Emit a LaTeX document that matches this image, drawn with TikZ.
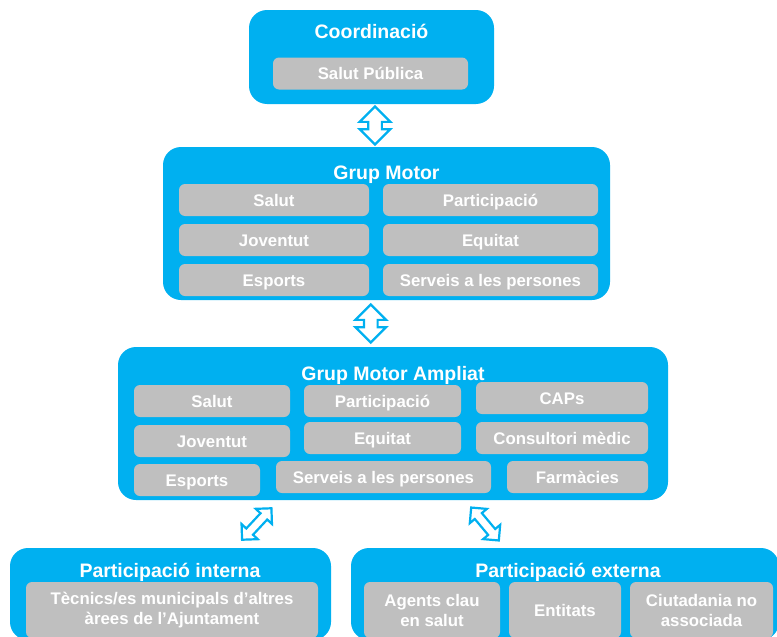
\documentclass[tikz,border=0pt]{standalone}
\usepackage{fontspec}
\setmainfont{Liberation Sans}
\usetikzlibrary{shapes.arrows,calc}
\definecolor{skyblue}{RGB}{0,176,240}
\definecolor{cellgray}{RGB}{191,191,191}

\begin{document}
\begin{tikzpicture}[x=1pt, y=-1pt,
  group/.style={fill=skyblue, rounded corners=18pt, inner sep=0pt},
  grouphead/.style={text=white, font=\fontsize{19.5}{23}\selectfont\bfseries, text height=14pt, text depth=0pt},
  cellbox/.style={fill=cellgray, rounded corners=6pt, text=white, font=\fontsize{16.8}{20}\selectfont\bfseries, inner sep=0pt},
  cell/.style={cellbox, minimum height=32pt, text height=12pt, text depth=0pt},
  tallcell/.style={cellbox, minimum height=56pt, align=center},
  twoway/.style={double arrow, draw=skyblue, fill=white, line width=2.2pt, inner xsep=0pt, minimum width=1pt},
  bigway/.style={twoway, inner ysep=5.75pt, double arrow head extend=8.5pt, minimum height=38pt, rotate=90},
  smallway/.style={twoway, inner ysep=3.5pt, double arrow head extend=6.5pt, minimum height=43pt}]
\useasboundingbox (0,0) rectangle (777,637);
\clip (0,0) rectangle (777,637);

\node [group, minimum width=245pt, minimum height=94pt] (coord) at (371.5,57) {};
\node [grouphead] (coordt) at (371.5,31) {Coordinació};
\node [cell, minimum width=195pt] (c1) at (370.5,73.5) {Salut Pública};

\node [group, minimum width=447pt, minimum height=153pt] (motor) at (386.5,223.5) {};
\node [grouphead] (motort) at (386.5,172) {Grup Motor};
\node [cell, minimum width=190pt] (m1) at (274,200) {Salut};
\node [cell, minimum width=215pt] (m2) at (490.5,200) {Participació};
\node [cell, minimum width=190pt] (m3) at (274,240) {Joventut};
\node [cell, minimum width=215pt] (m4) at (490.5,240) {Equitat};
\node [cell, minimum width=190pt] (m5) at (274,280) {Esports};
\node [cell, minimum width=215pt] (m6) at (490.5,280) {Serveis a les persones};

\node [group, minimum width=550pt, minimum height=153pt] (ampliat) at (393,423.5) {};
\node [grouphead] (ampliatt) at (393,373) {Grup Motor Ampliat};
\node [cell, minimum width=156pt] (a1) at (212,401) {Salut};
\node [cell, minimum width=157pt] (a2) at (382.5,401) {Participació};
\node [cell, minimum width=172pt] (a3) at (562,398) {CAPs};
\node [cell, minimum width=156pt] (a4) at (212,441) {Joventut};
\node [cell, minimum width=157pt] (a5) at (382.5,438) {Equitat};
\node [cell, minimum width=172pt] (a6) at (562,438) {Consultori mèdic};
\node [cell, minimum width=126pt] (a7) at (197,480) {Esports};
\node [cell, minimum width=215pt] (a8) at (383.5,477) {Serveis a les persones};
\node [cell, minimum width=141pt] (a9) at (577.5,477) {Farmàcies};

\node [group, minimum width=321pt, minimum height=92pt] (interna) at (170.5,594) {};
\node [grouphead] (internat) at (170,570) {Participació interna};
\node [tallcell, minimum width=292pt] (i1) at (172,610) {Tècnics/es municipals d’altres\\àrees de l’Ajuntament};

\node [group, minimum width=428pt, minimum height=92pt] (externa) at (565,594) {};
\node [grouphead] (externat) at (568,570) {Participació externa};
\node [tallcell, minimum width=136pt] (e1) at (432,610) {Agents clau\\en salut};
\node [tallcell, minimum width=112pt] (e2) at (565,610) {Entitats};
\node [tallcell, minimum width=143pt] (e3) at (701.5,610) {Ciutadania no\\associada};

\node [bigway] (ar1) at ($(coord.south)!.5!(motor.north)+(-4,0)$) {};
\node [bigway] (ar2) at ($(motor.south)!.5!(ampliat.north)+(-19,0)$) {};
\node [smallway, rotate=47] (ar3) at ($(ampliat.south)!.5!(interna.north)+(-25,0)$) {};
\node [smallway, rotate=-50] (ar4) at ($(ampliat.south)!.5!(externa.north)+(6,0)$) {};
\end{tikzpicture}
\end{document}
